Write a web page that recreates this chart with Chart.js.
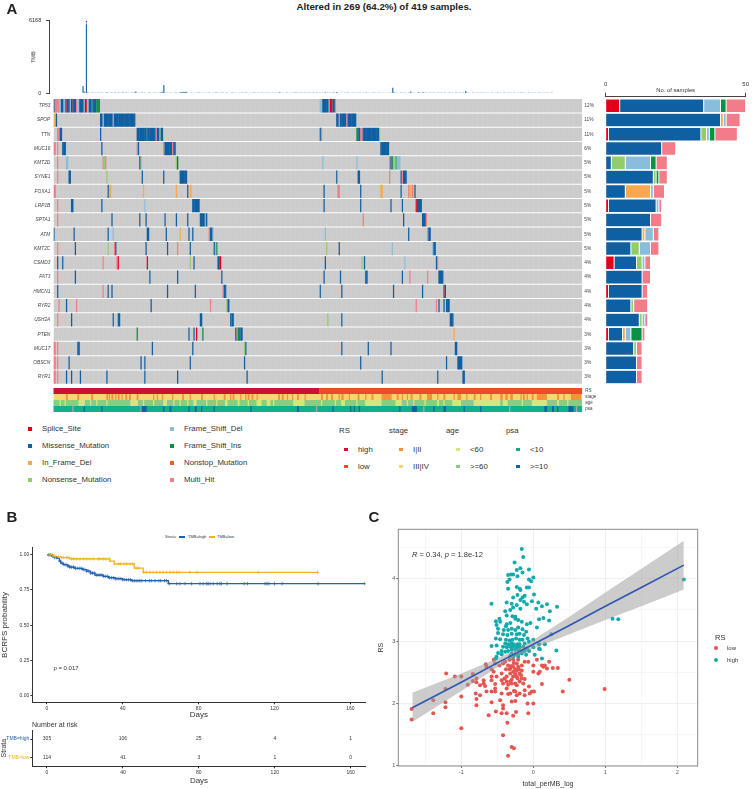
<!DOCTYPE html>
<html>
<head>
<meta charset="utf-8">
<title>Altered in 269 (64.2%) of 419 samples.</title>
<script src="https://cdn.jsdelivr.net/npm/chart.js@4"></script>
<style>
    body { margin: 0; background: #fff; }
    #page { position: relative; width: 753px; height: 789px; overflow: hidden; font-family: "Liberation Sans", Arial, sans-serif; color: #333; }
    #page canvas { position: absolute; }
    .txt { position: absolute; white-space: nowrap; line-height: 1; }
    .mark { position: absolute; }
</style>
</head>
<body>
<div id="page"></div>
<script>
// Oncoplot: type order and colours
const mutationTypes = ['Splice_Site', 'Missense_Mutation', 'In_Frame_Del', 'Nonsense_Mutation', 'Frame_Shift_Del', 'Frame_Shift_Ins', 'Nonstop_Mutation', 'Multi_Hit'];
const mutationColors = ['#E3001B', '#0F5FA3', '#F6A94E', '#93CC6A', '#88BEDB', '#0A9144', '#EE5F1E', '#F27C87'];

const geneNames = ['TP53', 'SPOP', 'TTN', 'MUC16', 'KMT2D', 'SYNE1', 'FOXA1', 'LRP1B', 'SPTA1', 'ATM', 'KMT2C', 'CSMD3', 'FAT3', 'HMCN1', 'RYR2', 'USH2A', 'PTEN', 'MUC17', 'OBSCN', 'RYR1'];
const genePercents = ['12%', '11%', '11%', '6%', '5%', '5%', '5%', '5%', '5%', '5%', '5%', '4%', '4%', '4%', '4%', '4%', '3%', '3%', '3%', '3%'];

// [first sample, number of samples, mutation type index]
const tp53Muts = [[0,1,1],[1,4,7],[5,1,4],[6,2,1],[8,1.5,4],[9.5,1,0],[10.5,2.5,1],[13,1,4],[14,1,0],[15,3,1],[18,1,7],[19,1.5,4],[20.5,3.5,1],[24,1,4],[25,1.5,0],[26.5,1.5,4],[28,2,1],[30,1,5],[31,3,1],[34,3,5],[211,2,4],[213,5,1],[218,1,4],[219,2,0],[221,2,1],[223,1,7]];
const spopMuts = [[0,2,2],[2,1,1],[37,2,1],[39,1,4],[40,7,1],[47,1,7],[48,17,1],[224,2,1],[226,1,7],[227,5,1],[232,1,7],[233,7,1]];
const ttnMuts = [[3,2,7],[5,2,1],[37,1,1],[66,8,1],[74,1,5],[75,6,1],[81,1,7],[82,2,1],[84,1,3],[85,2,1],[211,1,1],[212,1,7],[240,1.5,5],[241.5,1.5,1],[243,2,7],[245,1,1],[246,12,1],[258,1,3]];
const muc16Muts = [[0,2,7],[3,1,7],[7,3,1],[38,1,1],[66,1,7],[67,1,1],[87,1,7],[88,6,1],[94,1,7],[95,2,1],[259,7,1]];
const kmt2dMuts = [[3,1,7],[10,2,4],[39,1,7],[40,1,3],[41,1,7],[68,1,1],[69,1,3],[97,1,3],[98,1,1],[213,1,4],[240,1,4],[266,1,7],[267,1,1],[268,1,5],[269,1,4],[270,1,3],[271,1,5],[272,3,4]];
const syne1Muts = [[3,1,7],[12,2,1],[42,1,3],[70,1,1],[87,1,1],[100,6,1],[224,1,1],[241,2,1],[266,1,7],[275,1,1],[276,1,7],[277,3,1]];
const foxa1Muts = [[0,2,7],[43,1,1],[44,2,2],[71,1,2],[97,1,2],[106,1,1],[108,1.5,2],[214,1,1],[225,2,7],[243,1,1],[259,2,2],[275,1,1],[281,1,7],[282,2,2],[284,1,7],[285,1,2],[286,1,1]];
const lrp1bMuts = [[3,1,7],[14,2,1],[38,1,1],[72,1,4],[110,6,1],[214,1,1],[243,1,1],[267,1,1],[276,1,1],[287,1,0],[288,4,1]];
const spta1Muts = [[3,1,7],[46,1,1],[68,1,1],[73,1,1],[88,1,1],[97,1,1],[106,1,1],[116,4,1],[120,1,7],[121,1,1],[245,1,7],[277,1,1],[292,3,1],[295,1,7]];
const atmMuts = [[0,1,1],[16,1,1],[43,1,1],[47,1,4],[74,2,1],[89,1,1],[100,1,2],[107,1,1],[110,1,1],[123,1,7],[124,2,1],[126,1,4],[215,1,4],[281,1,1],[296,1,7],[297,2,1]];
const kmt2cMuts = [[3,1,7],[17,1,1],[43,1,3],[48,1,7],[49,1,1],[73,1,1],[90,1,1],[98,1,7],[108,1,1],[127,1,1],[128,1,4],[129,1,5],[216,1,3],[226,1,1],[268,1,4],[300,1,4],[301,2,1]];
const csmd3Muts = [[3,1,1],[7,1,1],[39,1,7],[50,1,7],[51,1,0],[74,1,0],[108,1,3],[111,1,1],[130,2,1],[132,1,0],[215,1,1],[244,1,3],[246,1,1],[278,1,4],[303,1,1],[304,1,7]];
const fat3Muts = [[3,1,7],[17,1,1],[76,1,1],[98,1,1],[133,1,1],[214,1,1],[227,1,1],[247,2,1],[276,1,1],[282,1,7],[296,1,7],[305,4,1]];
const hmcn1Muts = [[3,1,1],[39,1,7],[43,1,1],[46,1,1],[90,1,1],[112,1,1],[134,1,7],[135,2,1],[211,1,1],[228,1,1],[269,1,1],[292,1,1],[309,1,1],[310,1,0]];
const ryr2Muts = [[4,1,7],[10,1,1],[18,1,7],[77,1,1],[124,1,7],[137,1,3],[138,1.5,1],[287,1,7],[303,1,7],[305,1,1],[309,1,1],[311,3,1]];
const ush2aMuts = [[3,1,7],[14,1,1],[47,1,1],[51,2,1],[116,2,1],[140,1,1],[141,2,1],[217,1,3],[228,1,1],[314,3,1]];
const ptenMuts = [[66,1,5],[107,1,1],[111,1,1],[113,1,0],[118,1,5],[144,1,1],[145,1,7],[146,2,5],[148,2,1],[317,1,2]];
const muc17Muts = [[0,2,7],[3,1,7],[19,2,1],[78,1,1],[110,1,1],[151,1,3],[152,1,1],[228,1,1],[249,1,1],[267,1,1],[318,2,1]];
const obscnMuts = [[0,2,7],[3,1,7],[12,1,1],[69,1,1],[72,1,1],[108,1,1],[151,1,1],[243,1,1],[311,1,1],[320,4,1]];
const ryr1Muts = [[0,2,7],[3,1,7],[10,1,1],[14,1,1],[21,1,1],[42,1,1],[72,1,1],[98,1,1],[153,1,1],[260,1,1],[304,1,1],[324,2,1]];
const geneMuts = [tp53Muts, spopMuts, ttnMuts, muc16Muts, kmt2dMuts, syne1Muts, foxa1Muts, lrp1bMuts, spta1Muts, atmMuts, kmt2cMuts, csmd3Muts, fat3Muts, hmcn1Muts, ryr2Muts, ush2aMuts, ptenMuts, muc17Muts, obscnMuts, ryr1Muts];

// Samples per gene and mutation type (right hand bars), same order as mutationTypes
const spliceCounts    = [5, 0, 1, 0, 0, 0, 0, 1, 0, 0, 0, 3, 0, 1, 0, 0, 1, 0, 0, 0];
const missenseCounts  = [30, 41, 33, 20, 2, 17, 7, 17, 16, 13, 9, 8, 13, 12, 9, 12, 5, 10, 11, 11];
const inFrameCounts   = [0, 1, 0, 0, 0, 0, 9, 0, 0, 1, 0, 0, 0, 0, 0, 0, 1, 0, 0, 0];
const nonsenseCounts  = [0, 0, 2, 0, 5, 1, 0, 0, 0, 0, 3, 2, 0, 0, 1, 1, 0, 1, 0, 0];
const fsDelCounts     = [6, 1, 1, 0, 9, 0, 1, 1, 0, 3, 4, 1, 0, 0, 0, 1, 2, 0, 0, 0];
const fsInsCounts     = [2, 0, 2, 0, 2, 1, 0, 0, 0, 0, 0, 0, 0, 0, 0, 0, 4, 0, 0, 0];
const nonstopCounts   = [0, 0, 0, 0, 0, 0, 0, 0, 0, 0, 0, 0, 0, 0, 0, 0, 0, 0, 0, 0];
const multiHitCounts  = [7, 5, 8, 5, 4, 3, 4, 1, 4, 2, 3, 2, 3, 2, 5, 1, 1, 2, 2, 2];
const typeCounts = [spliceCounts, missenseCounts, inFrameCounts, nonsenseCounts, fsDelCounts, fsInsCounts, nonstopCounts, multiHitCounts];
const sampleAxisTicks = [0, 50];

// TMB per sample (missense part)
const tmbValues = [
    620, 150, 60, 5860, 90, 70, 50, 40, 60, 30, 50, 70, 40, 30, 60, 40, 20, 70, 50, 40,
    30, 60, 80, 50, 40, 20, 60, 40, 30, 70, 50, 30, 20, 60, 40, 80, 60, 40, 30, 20,
    50, 60, 40, 30, 70, 40, 90, 150, 70, 40, 30, 50, 60, 20, 40, 30, 50, 40, 60, 30,
    20, 50, 40, 30, 60, 40, 70, 50, 30, 60, 90, 120, 700, 80, 40, 60, 50, 30, 40, 60,
    40, 50, 30, 70, 60, 40, 60, 100, 90, 130, 120, 100, 130, 70, 40, 50, 30, 60, 40, 50,
    30, 40, 20, 60, 30, 40, 60, 50, 70, 40, 30, 50, 20, 60, 40, 50, 30, 40, 70, 60,
    30, 50, 40, 20, 60, 30, 40, 50, 70, 30, 50, 40, 30, 20, 60, 40, 30, 50, 40, 70,
    50, 30, 60, 40, 20, 30, 60, 40, 50, 30, 40, 70, 30, 60, 40, 50, 20, 30, 40, 60,
    30, 40, 20, 50, 30, 60, 40, 30, 50, 60, 40, 20, 30, 50, 70, 90, 60, 40, 30, 50,
    40, 60, 30, 40, 20, 50, 30, 40, 60, 30, 20, 30, 40, 20, 30, 20, 40, 30, 20, 30,
    40, 20, 30, 50, 20, 30, 20, 40, 60, 30, 50, 70, 40, 30, 50, 60, 90, 50, 30, 40,
    60, 30, 50, 80, 60, 40, 100, 70, 50, 30, 40, 60, 50, 30, 40, 60, 30, 20, 50, 40,
    60, 40, 30, 50, 70, 40, 30, 60, 40, 50, 30, 40, 60, 70, 40, 30, 50, 40, 30, 60,
    30, 40, 50, 30, 60, 40, 20, 50, 60, 40, 50, 30, 40, 60, 50, 30, 480, 90, 60, 40,
    30, 50, 40, 30, 60, 40, 30, 50, 20, 40, 60, 30, 160, 60, 40, 30, 50, 40, 60, 90,
    40, 30, 50, 110, 40, 30, 60, 40, 50, 30, 60, 40, 20, 30, 50, 40, 30, 60, 40, 30,
    20, 40, 60, 30, 40, 50, 30, 20, 40, 30, 50, 40, 20, 30, 40, 60, 30, 40, 20, 30,
    50, 210, 90, 40, 30, 0, 40, 20, 30, 0, 40, 30, 20, 0, 30, 40, 20, 30, 50, 60,
    40, 70, 50, 40, 60, 30, 50, 60, 40, 30, 20, 40, 30, 50, 40, 20, 30, 0, 40, 20,
    30, 50, 30, 40, 20, 30, 40, 50, 30, 40, 60, 30, 20, 40, 30, 50, 40, 30, 20, 40,
    30, 20, 40, 30, 0, 40, 20, 30, 40, 20, 0, 30, 40, 20, 30, 0, 40, 30, 20
];
const tmbNonsense = [0, 0, 0, 180];
const tmbSplice = [0, 0, 0, 128];
const tmbTicks = [0, 6168];

// Annotation tracks
const trackNames = ['RS', 'stage', 'age', 'psa'];
const rsLevels = ['high', 'low'];
const rsColors = ['#CF1034', '#EE4B29'];
const stageLevels = ['I|II', 'III|IV'];
const stageColors = ['#F7923A', '#FBD56D'];
const ageLevels = ['<60', '>=60'];
const ageColors = ['#D8E57F', '#8CCB85'];
const psaLevels = ['<10', '>=10'];
const psaColors = ['#12B08A', '#0F63A5'];
const naColor = '#A8A8A8';

const rsHighRange = [0, 211];
const rsLowRange = [211, 419];
const stageEarlySamples = [[10,1.5],[19,1.5],[30,1.5],[42,1.5],[44,1],[46,1.5],[49,1],[51,1.5],[54,1],[57,1.5],[60,1.5],[66,1.5],[79,1],[82,1],[86,1],[94,1],[102,1.5],[108,1],[117,1.5],[127,1],[135,1.5],[140,1],[142,1.5],[148,1],[152,1],[154,1.5],[157,1.5],[161,1],[178,1.5],[181,1.5],[185,1],[189,1],[193,1.5],[199,1],[212,1.5],[216,1.5],[220,1.5],[226,1],[228,2],[234,1],[241,1.5],[247,1],[252,1.5],[260,8],[272,1.5],[276,1],[280,1],[283,1.5],[290,1.5],[296,4],[304,1],[309,1.5],[317,1],[320,3],[327,1],[333,1.5],[338,1],[346,1.5],[354,2],[358,2],[362,2],[370,1],[372,1.5],[375,1],[379,1.5],[383,8],[399,1.5],[404,1],[410,8]];
const ageYoungSamples = [[5,1],[9,1],[20,5],[29,1],[34,1],[42,1],[61,6],[71,1],[79,1],[87,3],[95,1],[100,1],[106,1],[111,2.5],[121,1],[129,1],[136,2],[146,1.5],[154,1],[161,4],[169,3],[174,1],[190,9],[212,1],[223,1],[228,3],[240,1],[247,13],[271,5],[280,1],[285,1],[294,1],[304,1.5],[309,1],[316,7],[333,21],[356,4],[371,1],[379,12],[399,1.5],[407,1]];
const psaHighSamples = [[24,1],[38,1],[70,4],[87,1],[92,1.5],[107,1],[112,1.5],[117,1],[127,1],[156,1],[193,1.5],[221,1],[235,1],[238,1],[242,1],[274,1],[284,4],[301,1],[309,2],[325,1],[338,1],[389,2],[395,1.5],[399,1],[408,4]];
const psaMissingSamples = [[15,1],[69,1],[112,0.5],[208,1],[293,1],[361,1],[414,1]];

// Kaplan-Meier (panel B)
const kmTicksDays = [0, 40, 80, 120, 160];
const kmTicksProb = [0, 0.25, 0.5, 0.75, 1];
const highDays = [0, 2.5, 3, 4, 5.4, 6.5, 7.2, 8.6, 11, 12, 14.8, 19, 21, 23, 25.3, 29.7, 32.3, 36, 40, 44.6, 64, 168];
const highSurv = [1, 0.99, 0.985, 0.98, 0.974, 0.955, 0.94, 0.93, 0.92, 0.912, 0.903, 0.895, 0.884, 0.87, 0.856, 0.846, 0.837, 0.83, 0.823, 0.816, 0.795, 0.795];
const lowDays = [0, 3.3, 4.2, 7.7, 12, 33, 35.5, 46, 50.8, 142.7];
const lowSurv = [1, 0.99, 0.985, 0.98, 0.97, 0.955, 0.935, 0.905, 0.875, 0.875];
const highCensored = [1, 2, 4, 5, 7, 8, 9, 10, 11, 12, 13, 14, 15, 16, 17, 18, 19, 20, 21, 22, 23, 24, 25, 26, 27, 28, 29, 30, 31, 32, 33, 34, 35, 36, 37, 38, 39, 40, 41, 42, 43, 44, 45, 46, 47, 48, 49, 50, 52, 54, 55, 57, 59, 60, 62, 63, 64.5, 68.4, 70.1, 72.8, 76.3, 80.7, 82.4, 84.2, 85, 86, 87.7, 89.8, 91.2, 92, 95, 104, 105.7, 115, 116, 117, 120, 124, 143, 167.7];
const lowCensored = [1.6, 3, 4.2, 6, 7.7, 8.6, 10.4, 11.2, 13, 14.2, 15.6, 17.4, 19.2, 21, 22.7, 24.4, 27.1, 28, 29.7, 31.1, 32.9, 35.8, 37.6, 38.8, 40.6, 42, 43.8, 45.2, 47, 48.2, 51.1, 52.5, 54.3, 56, 57.8, 59.6, 61.3, 63.1, 64.9, 66.6, 68.4, 69.6, 75.4, 79.2, 111.4, 142.7];
const riskGroups = ['TMB=high', 'TMB=low'];
const riskHigh = [305, 106, 25, 4, 1];
const riskLow = [114, 41, 3, 1, 0];

// Scatter (panel C)
const lowPoints = [[-1.69,1.91],[-1.69,1.74],[-1.39,1.84],[-1.39,2.05],[-1.21,2.48],[-1.22,2.23],[-1.22,2.02],[-1.22,1.94],[-1,2.43],[-1.09,2.43],[-1,2.11],[-1,1.6],[-0.91,2.3],[-0.84,2.47],[-0.84,2.36],[-0.79,2.4],[-0.79,2.34],[-0.8,2.16],[-0.79,2.07],[-0.79,1.97],[-0.74,2.29],[-0.74,2.13],[-0.69,2.37],[-0.69,2.32],[-0.67,2.28],[-0.65,2.19],[-0.66,2.63],[-0.65,2.59],[-0.62,1.81],[-0.58,2.55],[-0.58,2.43],[-0.58,2.37],[-0.58,2.19],[-0.58,2.02],[-0.55,2.7],[-0.53,2.64],[-0.55,2.51],[-0.53,2.31],[-0.53,2.24],[-0.53,2.19],[-0.52,1.87],[-0.51,2.43],[-0.47,2.61],[-0.46,2.05],[-0.44,2.48],[-0.44,2.16],[-0.44,2.37],[-0.42,2.64],[-0.39,2.67],[-0.42,2.32],[-0.42,1.97],[-0.42,1.92],[-0.44,1.84],[-0.37,1.84],[-0.42,1.49],[-0.37,2.43],[-0.37,2.35],[-0.37,2.24],[-0.35,2.61],[-0.35,1.16],[-0.36,1.69],[-0.33,2.7],[-0.32,2.56],[-0.32,2.48],[-0.32,2.35],[-0.32,2.16],[-0.3,1.3],[-0.27,1.28],[-0.3,2.32],[-0.3,2.03],[-0.28,1.8],[-0.28,2.7],[-0.28,2.59],[-0.28,2.51],[-0.28,2.43],[-0.25,2.32],[-0.25,2.19],[-0.25,2.04],[-0.24,1.86],[-0.23,2.64],[-0.23,2.53],[-0.23,2.43],[-0.23,2.29],[-0.23,2.13],[-0.21,2.7],[-0.21,2.59],[-0.19,2.48],[-0.19,2.35],[-0.19,2.16],[-0.16,2.61],[-0.16,2.53],[-0.16,2.4],[-0.14,2.32],[-0.12,2.39],[-0.12,2.67],[-0.12,2.21],[-0.12,2.13],[-0.08,2],[-0.07,1.84],[-0.07,2.67],[-0.06,2.27],[-0.05,2.16],[-0.02,2.19],[0,2],[0,2.61],[0,2.51],[0.01,2.19],[0.05,2.7],[0.07,2.48],[0.09,2.51],[0.12,2.61],[0.12,2.31],[0.14,2.59],[0.16,2.61],[0.19,2.56],[0.22,2.67],[0.27,2.57],[0.34,2.57],[0.41,2.19],[0.5,2.38],[0.99,2.23],[-0.3,2.6],[-0.25,2.55],[-0.27,2.65],[-0.33,2.55],[-0.38,2.55],[-0.2,2.55],[-0.17,2.45],[-0.22,2.4],[-0.3,2.38],[-0.35,2.3],[-0.27,2.2],[-0.35,2.15],[-0.4,2.4],[-0.25,2.47]];
const highPoints = [[-0.16,4.48],[-0.14,4.35],[-0.26,4.26],[-0.18,4.17],[-0.23,4.14],[-0.06,4.15],[-0.15,4.1],[-0.28,4.07],[-0.35,4.06],[-0.31,4.07],[-0.36,3.95],[-0.33,3.99],[-0.22,4.04],[-0.06,3.99],[0,4.02],[-0.03,3.96],[-0.23,3.87],[-0.35,3.84],[-0.19,3.84],[-0.09,3.86],[-0.06,3.86],[-0.18,3.82],[0.01,3.75],[-0.12,3.73],[-0.15,3.7],[-0.28,3.7],[-0.22,3.74],[-0.37,3.62],[-0.3,3.6],[-0.58,3.6],[-0.02,3.64],[0.07,3.62],[0.19,3.59],[0.12,3.56],[-0.09,3.59],[-0.18,3.66],[-0.13,3.63],[0.04,3.52],[0.23,3.48],[0.33,3.55],[-0.23,3.58],[-0.28,3.54],[-0.32,3.5],[-0.39,3.48],[-0.18,3.52],[-0.29,3.4],[-0.25,3.39],[-0.37,3.41],[-0.47,3.36],[-0.52,3.32],[-0.46,3.31],[-0.51,3.26],[0.08,3.35],[0.14,3.37],[0.22,3.33],[-0.25,3.36],[-0.21,3.34],[-0.16,3.31],[-0.32,3.29],[-0.37,3.27],[-0.09,3.27],[-0.04,3.29],[0.05,3.22],[-0.38,3.24],[-0.49,3.2],[-0.41,3.18],[-0.35,3.18],[-0.3,3.2],[-0.25,3.18],[-0.21,3.22],[-0.15,3.19],[-0.1,3.15],[-0.36,3.1],[-0.42,3.11],[-0.49,3.13],[-0.52,3.04],[-0.46,3.03],[-0.3,3.12],[-0.23,3.11],[-0.19,3.12],[-0.13,3.1],[-0.08,3.04],[0,3.02],[-0.38,3.02],[-0.33,3.01],[-0.29,3.02],[-0.24,3.04],[-0.19,3.02],[-0.15,3.02],[-0.12,2.96],[-0.06,2.99],[-0.39,2.96],[-0.35,2.95],[-0.3,2.96],[-0.27,2.95],[-0.22,2.95],[-0.19,2.95],[-0.51,2.93],[-0.58,2.92],[-0.42,2.91],[-0.37,2.9],[-0.32,2.91],[-0.28,2.91],[-0.23,2.91],[-0.19,2.9],[-0.14,2.91],[-0.09,2.88],[0,2.9],[0.08,2.95],[0.08,2.88],[0.16,2.95],[0.25,3.11],[-0.44,2.84],[-0.39,2.83],[-0.35,2.84],[-0.3,2.86],[-0.25,2.86],[-0.21,2.86],[-0.16,2.84],[-0.12,2.84],[-0.06,2.84],[0.09,2.87],[0.32,2.85],[-0.49,2.81],[-0.44,2.79],[-0.51,2.75],[-0.3,2.8],[-0.25,2.79],[-0.21,2.79],[-0.16,2.8],[-0.1,2.78],[0.02,2.78],[0.12,2.72],[-0.52,2.72],[-0.32,2.76],[-0.28,2.75],[-0.21,2.75],[1.1,3.36],[1.18,3.35],[2.09,3.99]];
const fitX = [-1.68, -1, -0.5, -0.25, 0, 0.5, 1, 1.5, 2.09];
const fitY = [1.93, 2.34, 2.65, 2.8, 2.95, 3.25, 3.56, 3.86, 4.22];
const fitUpper = [2.17, 2.48, 2.72, 2.86, 3.02, 3.39, 3.78, 4.16, 4.61];
const fitLower = [1.7, 2.2, 2.58, 2.74, 2.88, 3.11, 3.34, 3.56, 3.83];
const scatterTicksX = [-1.5, -1, -0.5, 0, 0.5, 1, 1.5, 2];
const scatterTicksY = [1, 1.5, 2, 2.5, 3, 3.5, 4, 4.5];

const FONT = '"Liberation Sans", Arial, sans-serif';
const page = document.getElementById('page');
const blue = '#1F63AE';
const yellow = '#EFB41D';

Chart.defaults.font.family = FONT;
Chart.defaults.animation = false;
Chart.defaults.responsive = false;
Chart.defaults.plugins.legend.display = false;
Chart.defaults.plugins.tooltip.enabled = false;

function makeCanvas(left, top, width, height) {
    const canvas = document.createElement('canvas');
    canvas.width = width;
    canvas.height = height;
    canvas.style.left = left + 'px';
    canvas.style.top = top + 'px';
    page.appendChild(canvas);
    return canvas.getContext('2d');
}

// Small text placed on the page, centred on x,y unless align says otherwise
function addText(text, x, y, opts = {}) {
    const el = document.createElement('div');
    el.className = 'txt';
    el.innerHTML = text;
    el.style.left = x + 'px';
    el.style.top = y + 'px';
    el.style.fontSize = (opts.size || 8) + 'px';
    if (opts.bold) el.style.fontWeight = 'bold';
    if (opts.color) el.style.color = opts.color;
    const tx = opts.align === 'left' ? '0' : '-50%';
    el.style.transform = `translate(${tx}, -50%) rotate(${opts.rotate || 0}deg)`;
    page.appendChild(el);
}

function addMark(x, y, width, height, color, round) {
    const el = document.createElement('div');
    el.className = 'mark';
    el.style.left = (x - width / 2) + 'px';
    el.style.top = (y - height / 2) + 'px';
    el.style.width = width + 'px';
    el.style.height = height + 'px';
    el.style.background = color;
    if (round) el.style.borderRadius = '50%';
    page.appendChild(el);
}

function fixedTicks(values) {
    return scale => { scale.ticks = values.map(v => ({ value: v })); };
}

// Pins an axis to a set thickness, and drops the room it keeps for label overflow
function fitAxis(size) {
    return scale => {
        if (scale.isHorizontal()) scale.height = size;
        else scale.width = size;
        scale.paddingTop = scale.paddingBottom = scale.paddingLeft = scale.paddingRight = 0;
    };
}

function stepValue(days, surv, day) {
    let value = surv[0];
    days.forEach((d, i) => { if (d <= day) value = surv[i]; });
    return value;
}

// TMB bars on top of the oncoplot
function createTmbChart() {
    new Chart(makeCanvas(0, 14, 590, 82), {
        type: 'bar',
        data: {
            datasets: [
                { data: tmbValues.map((v, i) => ({ x: i + 0.5, y: v })), backgroundColor: mutationColors[1] },
                { data: tmbNonsense.map((v, i) => ({ x: i + 0.5, y: v })), backgroundColor: mutationColors[3] },
                { data: tmbSplice.map((v, i) => ({ x: i + 0.5, y: v })), backgroundColor: mutationColors[0] }
            ]
        },
        options: {
            layout: { padding: { top: 6.7, bottom: 2.7, right: 7.7 } },
            datasets: { bar: { barThickness: 1.1, inflateAmount: 0 } },
            scales: {
                x: { type: 'linear', display: false, min: -2.85, max: 419, stacked: true },
                y: {
                    min: 0, max: 6168, stacked: true,
                    afterFit: fitAxis(49.7),
                    afterBuildTicks: fixedTicks(tmbTicks),
                    grid: { drawOnChartArea: false, tickLength: 3.5, tickColor: '#444' },
                    border: { color: '#444' },
                    ticks: { font: { size: 5.5 }, color: '#333', padding: 5, callback: v => String(v) }
                }
            }
        }
    });
}

// Gene by sample grid
function createOncoChart() {
    const background = {
        data: geneNames.map(g => ({ x: [0, 419], y: g })),
        backgroundColor: '#CCCCCC',
        order: 20
    };
    const datasets = mutationTypes.map((type, t) => {
        const data = [];
        geneMuts.forEach((muts, g) => {
            muts.filter(m => m[2] === t).forEach(m => data.push({ x: [m[0], m[0] + m[1]], y: geneNames[g] }));
        });
        return { label: type, data, backgroundColor: mutationColors[t], order: 1 };
    });
    new Chart(makeCanvas(0, 96, 605, 290), {
        type: 'bar',
        data: { labels: geneNames, datasets: [background].concat(datasets) },
        options: {
            indexAxis: 'y',
            layout: { padding: { top: 2.6, bottom: 1.8 } },
            datasets: { bar: { grouped: false, categoryPercentage: 1, barPercentage: 0.93, inflateAmount: 0 } },
            scales: {
                x: {
                    type: 'linear', min: 0, max: 419,
                    afterFit: fitAxis(0),
                    ticks: { display: false, stepSize: 4, autoSkip: false },
                    grid: { color: 'rgba(255,255,255,0.09)', lineWidth: 0.6, drawTicks: false, z: 1 },
                    border: { display: false }
                },
                y: {
                    afterFit: fitAxis(53.3),
                    grid: { display: false, drawTicks: false }, border: { display: false },
                    ticks: { font: { size: 4.8, style: 'italic' }, color: '#444', padding: 3, autoSkip: false }
                },
                y2: {
                    type: 'category', labels: genePercents, position: 'right', offset: true,
                    afterFit: fitAxis(22.7),
                    grid: { display: false, drawTicks: false }, border: { display: false },
                    ticks: { font: { size: 4.8 }, color: '#444', padding: 2, autoSkip: false }
                }
            }
        }
    });
}

// RS, stage, age and psa strips under the grid
function createTrackChart() {
    const spans = (samples, track, color, order) => ({
        data: samples.map(s => ({ x: [s[0], s[0] + s[1]], y: track })),
        backgroundColor: color,
        order
    });
    const datasets = [
        { data: [{ x: rsHighRange, y: 'RS' }], backgroundColor: rsColors[0], order: 2 },
        { data: [{ x: rsLowRange, y: 'RS' }], backgroundColor: rsColors[1], order: 2 },
        { data: [{ x: [0, 419], y: 'stage' }], backgroundColor: stageColors[1], order: 5 },
        { data: [{ x: [0, 419], y: 'age' }], backgroundColor: ageColors[1], order: 5 },
        { data: [{ x: [0, 419], y: 'psa' }], backgroundColor: psaColors[0], order: 5 },
        spans(stageEarlySamples, 'stage', stageColors[0], 1),
        spans(ageYoungSamples, 'age', ageColors[0], 1),
        spans(psaHighSamples, 'psa', psaColors[1], 1),
        spans(psaMissingSamples, 'psa', naColor, 1)
    ];
    new Chart(makeCanvas(0, 386, 605, 28), {
        type: 'bar',
        data: { labels: trackNames, datasets },
        options: {
            indexAxis: 'y',
            layout: { padding: { top: 2, bottom: 2, left: 53.3 } },
            datasets: { bar: { grouped: false, categoryPercentage: 1, barPercentage: 1, inflateAmount: 0 } },
            scales: {
                x: { type: 'linear', min: 0, max: 419, display: false },
                y: { display: false },
                y2: {
                    type: 'category', labels: trackNames, position: 'right', offset: true,
                    afterFit: fitAxis(22.7),
                    grid: { display: false, drawTicks: false }, border: { display: false },
                    ticks: { font: { size: 4.5 }, color: '#444', padding: 3, autoSkip: false }
                }
            }
        }
    });
}

// Samples per gene, stacked by type, in the same rows as the grid
function createSampleBars() {
    const datasets = mutationTypes.map((type, t) => ({
        label: type,
        data: typeCounts[t],
        backgroundColor: mutationColors[t],
        borderColor: '#fff',
        borderWidth: 0.5,
        borderSkipped: false
    }));
    new Chart(makeCanvas(600, 96, 153, 290), {
        type: 'bar',
        data: { labels: geneNames, datasets },
        options: {
            indexAxis: 'y',
            layout: { padding: { top: 2.6, bottom: 1.8, left: 5.7, right: 7.3 } },
            datasets: { bar: { categoryPercentage: 1, barPercentage: 0.95 } },
            scales: {
                x: { display: false, min: 0, max: 50, stacked: true },
                y: { display: false, stacked: true }
            }
        }
    });
    // Axis only, sits just above the bars
    new Chart(makeCanvas(600, 78, 153, 20), {
        type: 'bar',
        data: { labels: [''], datasets: [{ data: [0] }] },
        options: {
            indexAxis: 'y',
            layout: { padding: { left: 5.7, right: 7.3 } },
            scales: {
                x: {
                    position: 'top', min: 0, max: 50,
                    afterFit: fitAxis(18.7),
                    afterBuildTicks: fixedTicks(sampleAxisTicks),
                    grid: { drawOnChartArea: false, tickLength: 4, tickColor: '#444' },
                    border: { color: '#444' },
                    ticks: { font: { size: 6 }, color: '#333', padding: 4.5, autoSkip: false, maxRotation: 0 }
                },
                y: { display: false }
            }
        }
    });
    addText('No. of samples', 675.7, 90.7, { size: 5.8 });
}

// Legends for panel A
function addOncoLegend() {
    const rowsY = [429, 446, 463, 480];
    const colX = [30, 172];
    mutationTypes.forEach((type, i) => {
        const col = i < 4 ? 0 : 1;
        const y = rowsY[i % 4];
        addMark(colX[col], y, 3.6, 3.6, mutationColors[i]);
        addText(type, colX[col] + 12, y, { align: 'left', size: 7.8 });
    });
    const groups = [
        ['RS', 339, 346, rsLevels, rsColors],
        ['stage', 389, 401, stageLevels, stageColors],
        ['age', 446, 458, ageLevels, ageColors],
        ['psa', 506, 518, psaLevels, psaColors]
    ];
    groups.forEach(([name, titleX, markX, levels, colors]) => {
        addText(name, titleX, 431, { align: 'left', size: 7.8 });
        levels.forEach((level, i) => {
            const y = 449.7 + i * 17;
            addMark(markX, y, 3.6, 3.6, colors[i]);
            addText(level, markX + 12, y, { align: 'left', size: 7.8 });
        });
    });
}

// Kaplan-Meier curves
function createKmChart() {
    const curve = (days, surv, color) => ({
        type: 'line', data: days.map((d, i) => ({ x: d, y: surv[i] })),
        borderColor: color, borderWidth: 1.3, stepped: 'before', pointRadius: 0, order: 2
    });
    const censors = (marks, days, surv, color) => ({
        type: 'scatter', data: marks.map(d => ({ x: d, y: stepValue(days, surv, d) })),
        pointStyle: 'cross', pointRadius: 1.8, borderColor: color, borderWidth: 0.7, order: 1
    });
    new Chart(makeCanvas(0, 540, 370, 180), {
        type: 'line',
        data: {
            datasets: [
                curve(lowDays, lowSurv, yellow),
                curve(highDays, highSurv, blue),
                censors(lowCensored, lowDays, lowSurv, yellow),
                censors(highCensored, highDays, highSurv, blue)
            ]
        },
        options: {
            layout: { padding: { top: 7.7, right: 4.3 } },
            scales: {
                x: {
                    type: 'linear', min: -7.74, max: 167.9,
                    afterFit: fitAxis(17.7),
                    afterBuildTicks: fixedTicks(kmTicksDays),
                    grid: { drawOnChartArea: false, tickLength: 2, tickColor: '#333' },
                    border: { color: '#333', width: 1 },
                    ticks: { font: { size: 5 }, color: '#333', padding: 1, maxRotation: 0 },
                    title: { display: true, text: 'Days', font: { size: 8 }, color: '#333', padding: 0 }
                },
                y: {
                    min: -0.047, max: 1.05,
                    afterFit: fitAxis(32.3),
                    afterBuildTicks: fixedTicks(kmTicksProb),
                    grid: { drawOnChartArea: false, tickLength: 2, tickColor: '#333' },
                    border: { color: '#333', width: 1 },
                    ticks: { font: { size: 5 }, color: '#333', padding: 1, callback: v => v.toFixed(2) },
                    title: { display: true, text: 'BCRFS probability', font: { size: 8 }, color: '#333', padding: 0 }
                }
            }
        }
    });
    addText('p = 0.017', 66, 667.7, { size: 6 });
    // Legend strip above the curves
    addText('Strata', 165, 537, { align: 'left', size: 4 });
    addMark(182, 537, 6, 1.2, blue);
    addText('TMB=high', 188, 537, { align: 'left', size: 4 });
    addMark(212, 537, 6, 1.2, yellow);
    addText('TMB=low', 217, 537, { align: 'left', size: 4 });
}

// Number at risk table, values sit on the same day axis
const riskTextPlugin = {
    id: 'riskText',
    afterDatasetsDraw(chart) {
        const ctx = chart.ctx;
        ctx.save();
        ctx.font = '5px ' + FONT;
        ctx.fillStyle = '#333';
        ctx.textAlign = 'center';
        ctx.textBaseline = 'middle';
        chart.data.datasets.forEach((dataset, d) => {
            chart.getDatasetMeta(d).data.forEach((point, i) => {
                ctx.fillText(String(dataset.riskText[i]), point.x, point.y);
            });
        });
        ctx.restore();
    }
};

function createRiskTable() {
    const row = (group, values) => ({
        data: kmTicksDays.map(d => ({ x: d, y: group })),
        riskText: values,
        pointRadius: 0
    });
    new Chart(makeCanvas(0, 725, 370, 64), {
        type: 'scatter',
        data: { datasets: [row(riskGroups[0], riskHigh), row(riskGroups[1], riskLow)] },
        plugins: [riskTextPlugin],
        options: {
            layout: { padding: { top: 5, right: 4.3, bottom: 3 } },
            scales: {
                x: {
                    type: 'linear', min: -7.74, max: 167.9,
                    afterFit: fitAxis(19.7),
                    afterBuildTicks: fixedTicks(kmTicksDays),
                    grid: { drawOnChartArea: false, tickLength: 2, tickColor: '#333' },
                    border: { color: '#333', width: 1 },
                    ticks: { font: { size: 5 }, color: '#333', padding: 1, maxRotation: 0 },
                    title: { display: true, text: 'Days', font: { size: 8 }, color: '#333', padding: 0 }
                },
                y: {
                    type: 'category', labels: riskGroups, offset: true,
                    afterFit: fitAxis(32.3),
                    grid: { drawOnChartArea: false, tickLength: 2, tickColor: '#333' },
                    border: { color: '#333', width: 1 },
                    ticks: {
                        font: { size: 5 }, padding: 1, autoSkip: false,
                        color: ctx => ctx.index === 0 ? blue : yellow
                    },
                    title: { display: true, text: 'Strata', font: { size: 7 }, color: '#333', padding: 0 }
                }
            }
        }
    });
    addText('Number at risk', 32, 723.7, { align: 'left', size: 7 });
}

// Frame round the scatter panel
const panelBorderPlugin = {
    id: 'panelBorder',
    afterDraw(chart) {
        const { ctx, chartArea: a } = chart;
        ctx.save();
        ctx.strokeStyle = '#8A8A8A';
        ctx.lineWidth = 1;
        ctx.strokeRect(a.left, a.top, a.right - a.left, a.bottom - a.top);
        ctx.restore();
    }
};

function createScatterChart() {
    const line = (ys, extra) => Object.assign({
        type: 'line', data: fitX.map((x, i) => ({ x, y: ys[i] })), pointRadius: 0, tension: 0
    }, extra);
    const toXY = p => ({ x: p[0], y: p[1] });
    const isWhole = v => Number.isInteger(v);
    new Chart(makeCanvas(370, 520, 383, 269), {
        type: 'scatter',
        data: {
            datasets: [
                { data: lowPoints.map(toXY), backgroundColor: '#E8544F', pointRadius: 2, borderWidth: 0, order: 4 },
                { data: highPoints.map(toXY), backgroundColor: '#14A9AC', pointRadius: 2, borderWidth: 0, order: 3 },
                line(fitUpper, { borderWidth: 0, borderColor: 'transparent', backgroundColor: 'rgba(153,153,153,0.5)', fill: '+1', order: 2 }),
                line(fitLower, { borderWidth: 0, borderColor: 'transparent', order: 2 }),
                line(fitY, { borderColor: '#2E55B2', borderWidth: 1.5, order: 1 })
            ]
        },
        plugins: [panelBorderPlugin],
        options: {
            layout: { padding: { top: 9.3, right: 55.3 } },
            scales: {
                x: {
                    min: -1.875, max: 2.283,
                    afterFit: fitAxis(23),
                    afterBuildTicks: fixedTicks(scatterTicksX),
                    grid: {
                        color: '#EEEEEE',
                        lineWidth: ctx => isWhole(ctx.tick.value) ? 0.9 : 0.45,
                        tickLength: 2,
                        tickColor: ctx => isWhole(ctx.tick.value) ? '#555' : 'transparent'
                    },
                    border: { display: false },
                    ticks: { font: { size: 5.5 }, color: '#555', padding: 1, maxRotation: 0, autoSkip: false, callback: v => isWhole(v) ? String(v) : '' },
                    title: { display: true, text: 'total_perMB_log', font: { size: 7 }, color: '#333', padding: { top: 0, bottom: 1 } }
                },
                y: {
                    min: 0.995, max: 4.795,
                    afterFit: fitAxis(28.3),
                    afterBuildTicks: fixedTicks(scatterTicksY),
                    grid: {
                        color: '#EEEEEE',
                        lineWidth: ctx => isWhole(ctx.tick.value) ? 0.9 : 0.45,
                        tickLength: 2,
                        tickColor: ctx => isWhole(ctx.tick.value) ? '#555' : 'transparent'
                    },
                    border: { display: false },
                    ticks: { font: { size: 5.5 }, color: '#555', padding: 1, autoSkip: false, callback: v => isWhole(v) ? String(v) : '' },
                    title: { display: true, text: 'RS', font: { size: 7 }, color: '#333', padding: { top: 7, bottom: 0 } }
                }
            }
        }
    });
    addText('<i>R</i> = 0.34, <i>p</i> = 1.8e-12', 412, 555, { align: 'left', size: 7.5 });
    addText('RS', 715, 637.7, { align: 'left', size: 7.5 });
    addMark(716, 647.7, 4, 4, '#E8544F', true);
    addText('low', 727, 647.7, { align: 'left', size: 6 });
    addMark(716, 660.3, 4, 4, '#14A9AC', true);
    addText('high', 727, 660.3, { align: 'left', size: 6 });
}

// Titles and panel letters
function addHeadings() {
    addText('Altered in 269 (64.2%) of 419 samples.', 384, 6.5, { size: 9.7, bold: true, color: '#222' });
    addText('A', 12, 8, { size: 15, bold: true, color: '#222' });
    addText('B', 12, 516, { size: 15, bold: true, color: '#222' });
    addText('C', 374, 516, { size: 15, bold: true, color: '#222' });
    addText('TMB', 34, 57, { size: 5.5, rotate: -90 });
}

createTmbChart();
createOncoChart();
createTrackChart();
createSampleBars();
addOncoLegend();
createKmChart();
createRiskTable();
createScatterChart();
addHeadings();
</script>
</body>
</html>
